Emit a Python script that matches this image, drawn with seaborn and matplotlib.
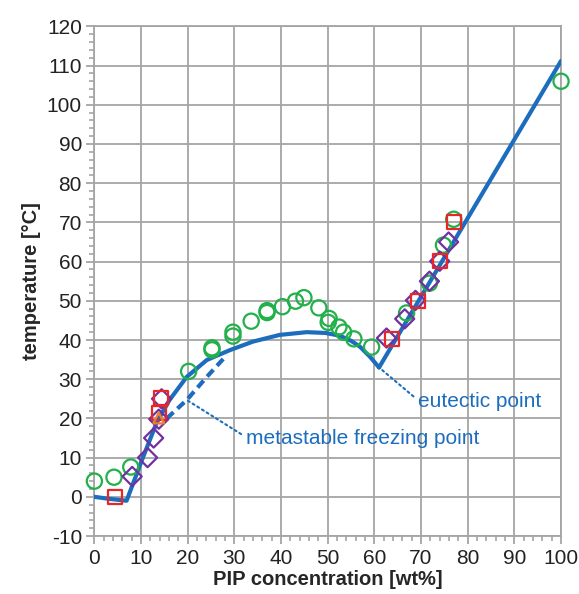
import numpy as np
import pandas as pd
import seaborn as sns
import matplotlib.pyplot as plt
from matplotlib.ticker import MultipleLocator

# --- data ---
liq_x = [0, 3, 6.9, 10.2, 13.3, 16.1, 19.8, 24.1, 29, 34, 39.7, 45.5, 49.5, 52.6, 55, 56.9, 59, 61]
liq_y = [0, -0.5, -1, 9.4, 18.8, 24.7, 30.6, 34.9, 37.4, 39.6, 41.3, 42, 41.8, 41.1, 39.8, 38.3, 35.8, 33]
line_x = [61, 100]
line_y = [33, 111.2]
meta_x = [15.5, 19.8, 24.1, 28.4]
meta_y = [20, 24.7, 30.6, 36.2]

green_x = [0, 4.2, 7.8, 20.2, 25.2, 25.2, 29.7, 29.7, 33.6, 37, 37, 40.3, 43.1, 44.9, 48.1,
           50.1, 50.3, 52.4, 53.4, 55.6, 59.4, 66.9, 71.8, 74.8, 77, 100]
green_y = [4, 5, 7.6, 32, 37.5, 38, 41, 42, 44.8, 47, 47.5, 48.5, 49.9, 50.8, 48.2,
           44.5, 45.5, 43.3, 42, 40.3, 38.2, 46.9, 54.5, 64.2, 70.8, 106]
purple_x = [8.1, 11.4, 12.7, 13.8, 14.4, 62.6, 66.5, 68.8, 71.8, 74, 75.9]
purple_y = [5.2, 10, 15, 19.8, 25, 40.5, 45.4, 50.1, 55, 60.1, 65]
red_x = [4.4, 13.8, 14.2, 63.7, 69.3, 74, 77]
red_y = [0, 21.4, 25.2, 40.2, 49.9, 60.1, 70.1]
orange_x = [13.8]
orange_y = [20.1]

blue = "#1c6dbd"
grid_c = "#a5a5a5"

sns.set_style("white")
plt.rcParams['font.family'] = ['Liberation Sans', 'DejaVu Sans']
plt.rcParams['axes.unicode_minus'] = False

fig = plt.figure(figsize=(5.79, 5.94), dpi=100)
ax = fig.add_axes([0.163, 0.0976, 0.806, 0.858])

# curves
sns.lineplot(x=liq_x, y=liq_y, ax=ax, color=blue, lw=3, sort=False, zorder=3)
sns.lineplot(x=line_x, y=line_y, ax=ax, color=blue, lw=3, sort=False, zorder=3)
sns.lineplot(x=meta_x, y=meta_y, ax=ax, color=blue, lw=3, sort=False, zorder=3,
             linestyle=(0, (2.2, 1.3)))

# measured points (hollow markers)
for xs, ys, c, m, s in [(green_x, green_y, "#22b04b", "o", 120),
                        (purple_x, purple_y, "#7030a0", "D", 95),
                        (red_x, red_y, "#e8262a", "s", 105),
                        (orange_x, orange_y, "#ed7d31", "^", 60)]:
    sns.scatterplot(x=xs, y=ys, ax=ax, marker=m, s=s, color=c, clip_on=False,
                    facecolors="none", edgecolor=c, linewidth=1.6, zorder=4)

# annotations
ax.annotate("eutectic point", xy=(61, 33), xytext=(69.3, 24.2),
            color=blue, fontsize=15, va="center", ha="left",
            arrowprops=dict(arrowstyle="-", color=blue, linestyle=":", lw=1.5,
                            shrinkA=1, shrinkB=0, relpos=(0, 0.6)))
ax.annotate("metastable freezing point", xy=(19.8, 24.7), xytext=(32.4, 14.8),
            color=blue, fontsize=15, va="center", ha="left",
            arrowprops=dict(arrowstyle="-", color=blue, linestyle=":", lw=1.5,
                            shrinkA=1, shrinkB=0, relpos=(0, 0.6)))

ax.set_xlim(0, 100)
ax.set_ylim(-10, 120)
ax.xaxis.set_major_locator(MultipleLocator(10))
ax.xaxis.set_minor_locator(MultipleLocator(2))
ax.yaxis.set_major_locator(MultipleLocator(10))
ax.yaxis.set_minor_locator(MultipleLocator(2))
ax.grid(True, which="major", color=grid_c, lw=1.3)
ax.set_axisbelow(True)
for sp in ax.spines.values():
    sp.set_color(grid_c)
    sp.set_linewidth(1.3)
ax.tick_params(which="both", bottom=True, left=True, top=False, right=False)
ax.tick_params(which="major", direction="out", length=6, width=1.3, color=grid_c,
               labelsize=15, labelcolor="#222222", pad=3)
ax.tick_params(which="minor", direction="out", length=3.5, width=1.2, color=grid_c)

ax.set_xlabel("PIP concentration [wt%]", fontsize=14.5, fontweight="bold", labelpad=2)
ax.set_ylabel("temperature [°C]", fontsize=14.5, fontweight="bold", labelpad=4)

fig.savefig("out.png", dpi=100)
